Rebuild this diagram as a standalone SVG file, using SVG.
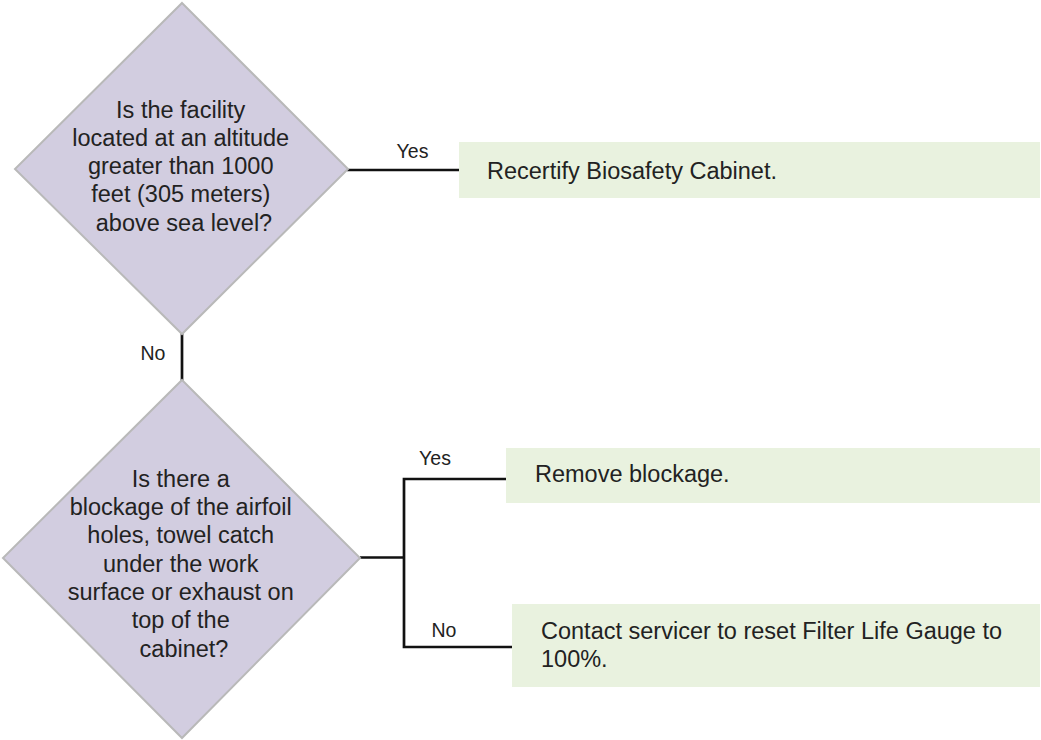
<svg xmlns="http://www.w3.org/2000/svg" width="1041" height="740" viewBox="0 0 1041 740">
  <style>
    .dec { fill: #d2cde0; stroke: #b9b9b9; stroke-width: 2; }
    .box { fill: #e9f2df; stroke: none; }
    .t { font-family: "Liberation Sans", Arial, sans-serif; font-size: 23.5px; fill: #222222; }
    .tc { text-anchor: middle; }
    .lbl { font-family: "Liberation Sans", Arial, sans-serif; font-size: 19.5px; fill: #222222; text-anchor: middle; }
    .conn { fill: none; stroke: #111111; stroke-width: 2.7; }
  </style>
  <rect width="1041" height="740" fill="#ffffff"/>

  <g id="connectors">
    <line class="conn" x1="347" y1="170" x2="460" y2="170"/>
    <line class="conn" x1="182" y1="333" x2="182" y2="381"/>
    <polyline class="conn" points="360,557.5 404,557.5"/>
    <polyline class="conn" points="508,479 404,479 404,647 513,647"/>
    <text class="lbl" x="412.5" y="158">Yes</text>
    <text class="lbl" x="153" y="360">No</text>
    <text class="lbl" x="435" y="465">Yes</text>
    <text class="lbl" x="444" y="637">No</text>
  </g>

  <g id="q1">
    <polygon class="dec" points="182,3 348,169 182,334 15,169"/>
    <text class="t tc" x="184" y="117.5">
      <tspan x="184" dy="0">Is the facility</tspan>
      <tspan x="184" dy="28.3">located at an altitude</tspan>
      <tspan x="184" dy="28.3">greater than 1000</tspan>
      <tspan x="184" dy="28.3">feet (305 meters)</tspan>
      <tspan x="184" dy="28.3">above sea level?</tspan>
    </text>
  </g>

  <g id="q2">
    <polygon class="dec" points="182,380 360,558 182,738 3,558"/>
    <text class="t tc" x="184" y="486.7">
      <tspan x="184" dy="0">Is there a</tspan>
      <tspan x="184" dy="28.3">blockage of the airfoil</tspan>
      <tspan x="184" dy="28.3">holes, towel catch</tspan>
      <tspan x="184" dy="28.3">under the work</tspan>
      <tspan x="184" dy="28.3">surface or exhaust on</tspan>
      <tspan x="184" dy="28.3">top of the</tspan>
      <tspan x="184" dy="28.3">cabinet?</tspan>
    </text>
  </g>

  <g id="a1">
    <rect class="box" x="459" y="142" width="581" height="56"/>
    <text class="t" x="487" y="179">Recertify Biosafety Cabinet.</text>
  </g>

  <g id="a2">
    <rect class="box" x="506" y="448" width="534" height="55"/>
    <text class="t" x="535" y="482">Remove blockage.</text>
  </g>

  <g id="a3">
    <rect class="box" x="512" y="604" width="528" height="83"/>
    <text class="t" x="541" y="639">
      <tspan x="541" dy="0">Contact servicer to reset Filter Life Gauge to</tspan>
      <tspan x="541" dy="28">100%.</tspan>
    </text>
  </g>
</svg>
